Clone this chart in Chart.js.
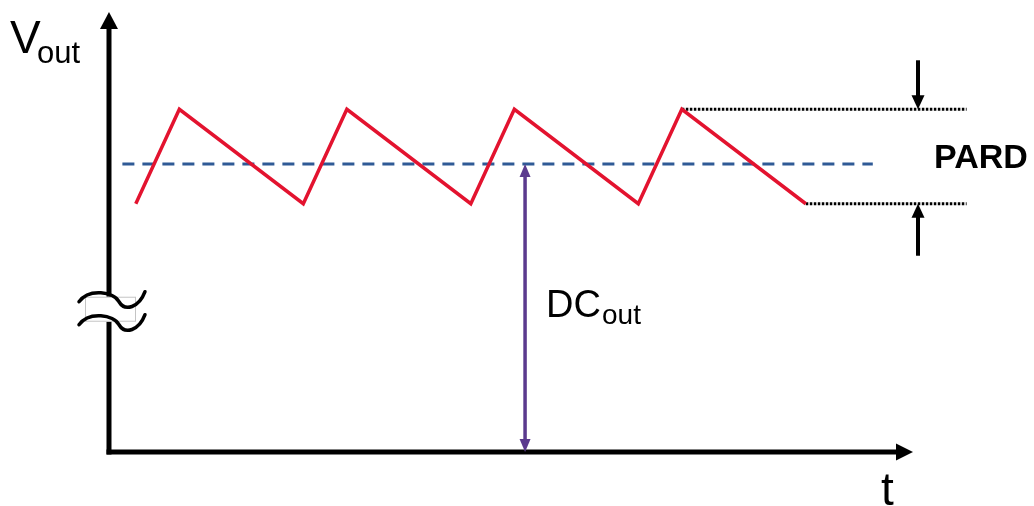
<!DOCTYPE html>
<html>
<head>
<meta charset="utf-8">
<script src="https://cdn.jsdelivr.net/npm/chart.js@4/dist/chart.umd.min.js"></script>
<style>
  html, body { margin: 0; padding: 0; background: #fff; }
  #wrap { width: 1034px; height: 506px; position: relative; }
</style>
</head>
<body>
<div id="wrap"><canvas id="chart"></canvas></div>
<script>
// --- Data (time in ripple periods, voltage in arbitrary units) ---
const rippleT = [0.16, 0.42, 1.16, 1.42, 2.16, 2.42, 3.16, 3.42, 4.16];
const rippleV = [4.31, 5.95, 4.31, 5.95, 4.31, 5.95, 4.31, 5.95, 4.31];
const dcLevel = 5.0;
const dcSpanT = [0.08, 4.56];
const pardHighT = [3.42, 5.12];
const pardLowT = [4.16, 5.12];
const dcArrowT = 2.484;
const pardArrowT = 4.83;
const axisEndT = 4.80;
const axisEndV = 7.64;
const breakV = 2.47;

const FONT = "'Liberation Sans', Arial, sans-serif";

function pts(ts, vs) {
    return ts.map((t, i) => ({ x: t, y: vs[i] }));
}

function arrowHead(ctx, x, y, dir, w, h, color) {
    // dir: 'up' | 'down' | 'right'
    ctx.save();
    ctx.fillStyle = color;
    ctx.beginPath();
    if (dir === 'up') {
        ctx.moveTo(x, y); ctx.lineTo(x - w / 2, y + h); ctx.lineTo(x + w / 2, y + h);
    } else if (dir === 'down') {
        ctx.moveTo(x, y); ctx.lineTo(x - w / 2, y - h); ctx.lineTo(x + w / 2, y - h);
    } else {
        ctx.moveTo(x, y); ctx.lineTo(x - h, y - w / 2); ctx.lineTo(x - h, y + w / 2);
    }
    ctx.closePath();
    ctx.fill();
    ctx.restore();
}

const decor = {
    id: 'decor',
    beforeDatasetsDraw(chart) {
        const { ctx, scales: { x, y } } = chart;
        const x0 = x.getPixelForValue(0), y0 = y.getPixelForValue(0);
        const xEnd = x.getPixelForValue(axisEndT), yEnd = y.getPixelForValue(axisEndV);
        ctx.save();
        ctx.strokeStyle = '#000';
        ctx.lineWidth = 5;
        ctx.lineCap = 'butt';
        // y axis
        ctx.beginPath(); ctx.moveTo(x0, y0 + 2.5); ctx.lineTo(x0, yEnd + 14); ctx.stroke();
        arrowHead(ctx, x0, yEnd, 'up', 18, 17, '#000');
        // x axis
        ctx.beginPath(); ctx.moveTo(x0 - 2.5, y0); ctx.lineTo(xEnd - 14, y0); ctx.stroke();
        arrowHead(ctx, xEnd, y0, 'right', 17, 17, '#000');

        // axis break
        const by = y.getPixelForValue(breakV);
        ctx.fillStyle = '#fff';
        ctx.fillRect(x0 - 24, by - 13, 51, 25);
        ctx.strokeStyle = '#c4c4c4';
        ctx.lineWidth = 1;
        ctx.strokeRect(x0 - 23.5, by - 12.5, 50, 24);
        ctx.strokeStyle = '#000';
        ctx.lineWidth = 3.5;
        ctx.lineCap = 'round';
        [-10, 13].forEach(off => {
            const cy = by + off;
            ctx.beginPath();
            ctx.moveTo(x0 - 30, cy + 2);
            ctx.bezierCurveTo(x0 - 20, cy - 12, x0 + 5, cy - 8, x0 + 10, cy + 2);
            ctx.bezierCurveTo(x0 + 16, cy + 12, x0 + 30, cy + 8, x0 + 36, cy - 8);
            ctx.stroke();
        });
        ctx.restore();
    },
    afterDatasetsDraw(chart) {
        const { ctx, scales: { x, y } } = chart;
        ctx.save();
        // DC arrow heads
        const dx = x.getPixelForValue(dcArrowT);
        const purple = '#5b3a8e';
        arrowHead(ctx, dx, y.getPixelForValue(dcLevel), 'up', 11, 13, purple);
        arrowHead(ctx, dx, y.getPixelForValue(0), 'down', 11, 13, purple);

        // PARD arrows
        const px = x.getPixelForValue(pardArrowT);
        const hi = y.getPixelForValue(rippleV[1]), lo = y.getPixelForValue(rippleV[0]);
        ctx.strokeStyle = '#000';
        ctx.lineWidth = 4;
        ctx.beginPath(); ctx.moveTo(px, hi - 49); ctx.lineTo(px, hi - 12); ctx.stroke();
        arrowHead(ctx, px, hi, 'down', 13, 14, '#000');
        ctx.beginPath(); ctx.moveTo(px, lo + 52); ctx.lineTo(px, lo + 12); ctx.stroke();
        arrowHead(ctx, px, lo, 'up', 13, 14, '#000');

        // labels
        ctx.fillStyle = '#000';
        ctx.textBaseline = 'alphabetic';
        ctx.font = '46px ' + FONT;
        ctx.fillText('V', 10, 53);
        ctx.font = '31px ' + FONT;
        ctx.fillText('out', 37, 63);
        ctx.font = '46px ' + FONT;
        ctx.fillText('t', 881, 505);
        ctx.font = '38px ' + FONT;
        ctx.fillText('DC', 546, 317);
        ctx.font = '28px ' + FONT;
        ctx.fillText('out', 602, 324);
        ctx.font = 'bold 34px ' + FONT;
        ctx.fillText('PARD', 934, 168);
        ctx.restore();
    }
};

new Chart(document.getElementById('chart'), {
    type: 'line',
    data: {
        datasets: [
            {
                data: pts(rippleT, rippleV),
                borderColor: '#e3132f',
                borderWidth: 3.5,
                borderJoinStyle: 'miter'
            },
            {
                data: pts(dcSpanT, [dcLevel, dcLevel]),
                borderColor: '#2f5a96',
                borderWidth: 3,
                borderDash: [12, 8]
            },
            {
                data: pts(pardHighT, [rippleV[1], rippleV[1]]),
                borderColor: '#000',
                borderWidth: 3,
                borderDash: [2.5, 1.5]
            },
            {
                data: pts(pardLowT, [rippleV[0], rippleV[0]]),
                borderColor: '#000',
                borderWidth: 3,
                borderDash: [2.5, 1.5]
            },
            {
                data: pts([dcArrowT, dcArrowT], [dcLevel - 0.2, 0.2]),
                borderColor: '#5b3a8e',
                borderWidth: 3.5
            }
        ]
    },
    options: {
        responsive: true,
        maintainAspectRatio: false,
        animation: false,
        layout: { padding: 0 },
        elements: { point: { radius: 0 }, line: { tension: 0 } },
        plugins: { legend: { display: false }, tooltip: { enabled: false } },
        scales: {
            x: { type: 'linear', min: -0.6507, max: 5.5224, display: false },
            y: { type: 'linear', min: -0.9375, max: 7.8472, display: false }
        }
    },
    plugins: [decor]
});
</script>
</body>
</html>
